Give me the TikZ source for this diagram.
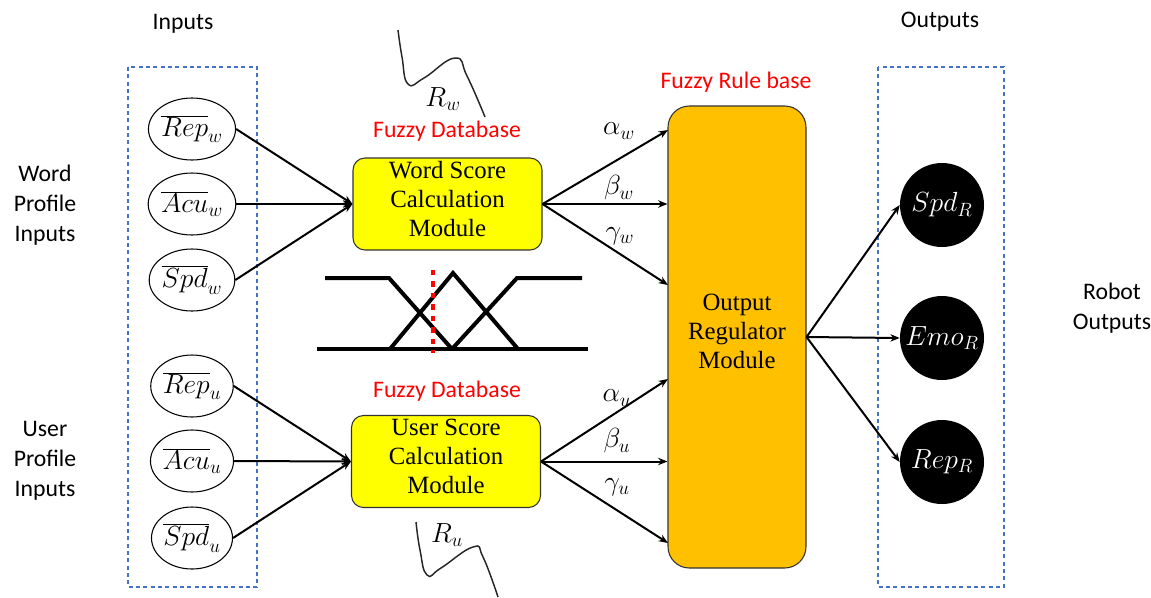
\documentclass[tikz,border=0pt]{standalone}
\usepackage{fontspec}
\setmainfont{Liberation Serif}
\setsansfont{Carlito}
\usetikzlibrary{arrows.meta,shapes.geometric}
\definecolor{dashblue}{HTML}{4472C4}
\definecolor{ruleorange}{HTML}{FFC000}
\definecolor{fuzzred}{HTML}{FF0000}
\definecolor{boxyellow}{HTML}{FFFF00}

\begin{document}
\begin{tikzpicture}[x=0.75pt,y=-0.75pt,
  conn/.style={line width=1.5pt,-{Stealth[length=7pt,width=5.5pt]}},
  inell/.style={draw,ellipse,line width=0.8pt,minimum width=52.5pt,minimum height=46.5pt,inner sep=0pt,font=\fontsize{19.5}{22}\selectfont},
  outcirc/.style={circle,fill=black,minimum size=63pt,inner sep=0pt,text=white,font=\fontsize{19.5}{22}\selectfont},
  calcbox/.style={draw=black!80,fill=boxyellow,rounded corners=9pt,line width=0.8pt,minimum width=141.75pt,minimum height=69pt,inner sep=0pt},
  rulebox/.style={draw=black!80,fill=ruleorange,rounded corners=16pt,line width=0.8pt,minimum width=103.5pt,minimum height=346.5pt,inner sep=0pt},
  boxtext/.style={font=\fontsize{18.6}{21.75}\selectfont\rmfamily,align=center},
  sanslabel/.style={font=\fontsize{17.8}{22.5}\selectfont\sffamily,align=center},
  redlabel/.style={sanslabel,text=fuzzred},
  dashbox/.style={draw=dashblue,line width=1.1pt,dash pattern=on 3pt off 2.5pt},
  mathlabel/.style={font=\fontsize{19.5}{22}\selectfont},
  curve/.style={line width=1.1pt,black!85},
  mf/.style={line width=3pt},
]
\useasboundingbox (0,0) rectangle (1151,597);

% group frames
\draw[dashbox] (128,67) rectangle (257,587);
\draw[dashbox] (878,67) rectangle (1004,587);

% side labels
\node[sanslabel] (inlab) at (183,24) {Inputs};
\node[sanslabel] (outlab) at (940,22) {Outputs};
\node[sanslabel] (wpi) at (45,205) {Word\\Profile\\Inputs};
\node[sanslabel] (upi) at (45,461) {User\\Profile\\Inputs};
\node[sanslabel] (ro) at (1112,308) {Robot\\Outputs};

% input variables
\node[inell] (repw) at (192,129) {$\overline{Rep}_w$};
\node[inell] (acuw) at (192,204) {$\overline{Acu}_w$};
\node[inell] (spdw) at (192,280) {$\overline{Spd}_w$};
\node[inell] (repu) at (192,386) {$\overline{Rep}_u$};
\node[inell] (acuu) at (192,461) {$\overline{Acu}_u$};
\node[inell] (spdu) at (192,538) {$\overline{Spd}_u$};

% score calculation modules
\node[calcbox] (wsc) at (447.5,204) {};
\node[boxtext] (wsct) at (447.5,199) {Word Score\\Calculation\\Module};
\node[calcbox] (usc) at (446,461.5) {};
\node[boxtext] (usct) at (446,456) {User Score\\Calculation\\Module};
\node[redlabel] (fdbw) at (447,131) {Fuzzy Database};
\node[redlabel] (fdbu) at (447,391) {Fuzzy Database};

% rule base
\node[rulebox] (rb) at (737,337) {};
\node[boxtext] (rbt) at (737,331) {Output\\Regulator\\Module};
\node[redlabel] (frb) at (736,82) {Fuzzy Rule base};

% outputs
\node[outcirc] (spdr) at (942,205) {$Spd_R$};
\node[outcirc] (emor) at (942,338) {$Emo_R$};
\node[outcirc] (repr) at (942,462) {$Rep_R$};

% inputs into the modules
\foreach \n in {repw,acuw,spdw} \draw[conn] (\n.east) -- (wsc.west);
\foreach \n in {repu,acuu,spdu} \draw[conn] (\n.east) -- (usc.west);

% module outputs into the rule base
\coordinate (aw) at (668,130);
\coordinate (gw) at (668,285);
\coordinate (au) at (668,379);
\coordinate (gu) at (668,543);
\draw[conn] (wsc.east) -- (aw);
\draw[conn] (wsc.east) -- (wsc.east -| rb.west);
\draw[conn] (wsc.east) -- (gw);
\draw[conn] (usc.east) -- (au);
\draw[conn] (usc.east) -- (usc.east -| rb.west);
\draw[conn] (usc.east) -- (gu);
\node[mathlabel] (law) at (619,131) {$\alpha_w$};
\node[mathlabel] (lbw) at (619,188) {$\beta_w$};
\node[mathlabel] (lgw) at (620,236) {$\gamma_w$};
\node[mathlabel] (lau) at (617,398) {$\alpha_u$};
\node[mathlabel] (lbu) at (617,441) {$\beta_u$};
\node[mathlabel] (lgu) at (617,487) {$\gamma_u$};

% rule base to robot outputs
\draw[conn] (rb.east) -- (spdr.west);
\draw[conn] (rb.east) -- (emor.west);
\draw[conn] (rb.east) -- (repr.west);

% membership functions
\draw[mf] (317,349) -- (588,349);
\draw[mf] (325,278) -- (389,278) -- (452,349);
\draw[mf] (390,349) -- (453,273) -- (518,349);
\draw[mf] (452,349) -- (517,278) -- (582,278);
\draw[fuzzred,line width=3pt,dash pattern=on 4pt off 4.6pt] (433,270) -- (433,353);

% rule curves
\draw[curve] plot[smooth,tension=0.8] coordinates {(398,30) (402,57) (408,84) (424,78) (455,58) (467,76) (485,117)};
\node[mathlabel] (rwl) at (443,99) {$R_w$};
\draw[curve] plot[smooth,tension=0.8] coordinates {(416,522) (420,550) (427,575) (441,568) (473,547) (483,557) (498,597)};
\node[mathlabel] (rul) at (447,535) {$R_u$};
\end{tikzpicture}
\end{document}
